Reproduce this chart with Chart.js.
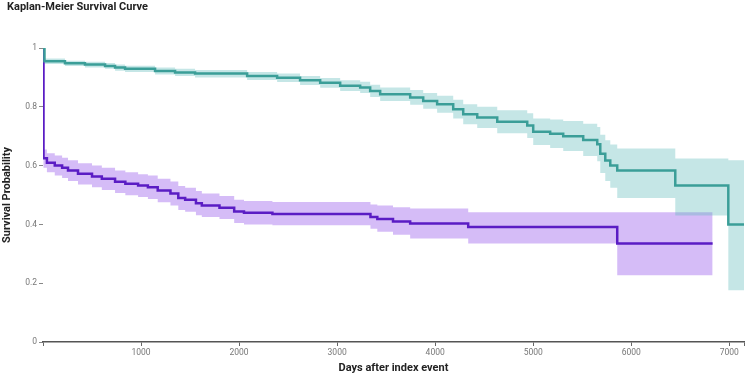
<!DOCTYPE html>
<html>
<head>
<meta charset="utf-8">
<script src="https://cdn.jsdelivr.net/npm/chart.js@4.4.1/dist/chart.umd.min.js"></script>
<style>
  body { margin: 0; background: #fff; }
  #wrap { position: relative; width: 748px; height: 376px; }
  #title { position: absolute; left: 7px; top: 0px; font: bold 11px Roboto, sans-serif; line-height: 13px; color: #222; }
</style>
</head>
<body>
<div id="wrap">
  <div id="title">Kaplan-Meier Survival Curve</div>
  <canvas id="km"></canvas>
</div>
<script>
// group A (teal) - days, survival, lower / upper CI
const daysA = [0, 15, 224, 428, 633, 735, 837, 1143, 1347, 1551, 2082, 2388, 2622, 2827, 3031, 3235, 3337, 3439, 3745, 3878, 4020, 4184, 4286, 4429, 4633, 4939, 5000, 5173, 5306, 5510, 5653, 5684, 5735, 5786, 5857, 6449, 6990, 7150];
const survA = [1, 0.955, 0.948, 0.944, 0.939, 0.934, 0.929, 0.922, 0.917, 0.913, 0.905, 0.899, 0.890, 0.882, 0.872, 0.866, 0.854, 0.843, 0.832, 0.820, 0.809, 0.792, 0.775, 0.764, 0.749, 0.736, 0.715, 0.708, 0.700, 0.687, 0.673, 0.640, 0.617, 0.600, 0.583, 0.532, 0.400, 0.400];
const lowA  = [1, 0.946, 0.939, 0.934, 0.929, 0.923, 0.918, 0.910, 0.905, 0.900, 0.891, 0.884, 0.874, 0.865, 0.854, 0.847, 0.833, 0.820, 0.807, 0.793, 0.780, 0.760, 0.741, 0.728, 0.710, 0.694, 0.670, 0.660, 0.650, 0.633, 0.615, 0.575, 0.548, 0.525, 0.490, 0.430, 0.176, 0.176];
const highA = [1, 0.964, 0.957, 0.953, 0.949, 0.944, 0.940, 0.934, 0.929, 0.925, 0.918, 0.913, 0.905, 0.898, 0.890, 0.885, 0.875, 0.866, 0.857, 0.847, 0.838, 0.824, 0.809, 0.800, 0.788, 0.778, 0.760, 0.757, 0.752, 0.742, 0.731, 0.705, 0.686, 0.672, 0.658, 0.624, 0.618, 0.618];

// group B (purple)
const daysB = [0, 5, 40, 120, 195, 255, 357, 500, 600, 735, 840, 970, 1070, 1170, 1300, 1380, 1450, 1560, 1620, 1800, 1950, 2050, 2340, 3340, 3410, 3570, 3745, 4337, 5857, 6830];
const survB = [1, 0.625, 0.610, 0.600, 0.593, 0.583, 0.572, 0.563, 0.555, 0.545, 0.538, 0.532, 0.526, 0.515, 0.505, 0.490, 0.484, 0.472, 0.464, 0.457, 0.444, 0.440, 0.435, 0.425, 0.418, 0.410, 0.403, 0.391, 0.335, 0.335];
const lowB  = [1, 0.593, 0.577, 0.566, 0.558, 0.548, 0.536, 0.526, 0.517, 0.507, 0.499, 0.493, 0.486, 0.475, 0.464, 0.449, 0.443, 0.431, 0.425, 0.418, 0.405, 0.400, 0.397, 0.385, 0.375, 0.365, 0.352, 0.335, 0.227, 0.227];
const highB = [1, 0.655, 0.642, 0.634, 0.627, 0.618, 0.608, 0.600, 0.593, 0.583, 0.577, 0.571, 0.566, 0.555, 0.546, 0.531, 0.525, 0.514, 0.505, 0.497, 0.484, 0.480, 0.476, 0.468, 0.464, 0.458, 0.454, 0.441, 0.441, 0.441];

const xMax = 7150;
const xTickLabels = ['1000', '2000', '3000', '4000', '5000', '6000', '7000'];
const yTickLabels = ['0', '0.2', '0.4', '0.6', '0.8', '1'];

const tealLine = '#3b9e98';
const tealBand = 'rgba(89,184,184,0.35)';
const purpleLine = '#5a1cc4';
const purpleBand = 'rgba(150,87,235,0.4)';

const pts = (xs, ys) => xs.map((x, i) => ({ x: x, y: ys[i] }));

Chart.defaults.font.family = 'Roboto';

new Chart(document.getElementById('km'), {
  type: 'line',
  data: {
    datasets: [
      { label: 'A', data: pts(daysA, survA), borderColor: tealLine, borderWidth: 2.5, pointRadius: 0, stepped: true, fill: false },
      { label: 'B', data: pts(daysB, survB), borderColor: purpleLine, borderWidth: 2.5, pointRadius: 0, stepped: true, fill: false },
      { label: 'A upper', data: pts(daysA, highA), borderWidth: 0, pointRadius: 0, stepped: true, backgroundColor: tealBand, fill: '+1' },
      { label: 'A lower', data: pts(daysA, lowA), borderWidth: 0, pointRadius: 0, stepped: true, fill: false },
      { label: 'B upper', data: pts(daysB, highB), borderWidth: 0, pointRadius: 0, stepped: true, backgroundColor: purpleBand, fill: '+1' },
      { label: 'B lower', data: pts(daysB, lowB), borderWidth: 0, pointRadius: 0, stepped: true, fill: false }
    ]
  },
  options: {
    responsive: true,
    maintainAspectRatio: false,
    animation: false,
    layout: { padding: { top: 48, right: 4, left: 0, bottom: 0 } },
    plugins: {
      legend: { display: false },
      tooltip: { enabled: false }
    },
    scales: {
      x: {
        type: 'linear',
        min: 0,
        max: xMax,
        afterFit: (s) => { s.height = 34; },
        afterBuildTicks: (s) => {
          s.ticks = [0].concat(xTickLabels.map(Number), [xMax]).map(v => ({ value: v }));
        },
        border: { display: true, color: '#555', width: 1.5 },
        grid: { drawOnChartArea: false, tickLength: 4, color: '#666' },
        ticks: {
          maxRotation: 0,
          minRotation: 0,
          autoSkip: false,
          padding: 2,
          color: '#777',
          font: { size: 8.5 },
          callback: (v) => xTickLabels.includes(String(v)) ? String(v) : ''
        },
        title: { display: true, text: 'Days after index event', color: '#222', font: { size: 11, weight: 'bold' }, padding: { top: 0, bottom: 1 } }
      },
      y: {
        min: 0,
        max: 1,
        afterFit: (s) => { s.width = 43; },
        border: { display: false },
        grid: { drawOnChartArea: false, tickLength: 4, color: '#888' },
        ticks: {
          stepSize: 0.2,
          padding: 2,
          color: '#777',
          font: { size: 8.5 },
          callback: (v) => yTickLabels[Math.round(Number(v) * 5)]
        },
        title: { display: true, text: 'Survival Probability', color: '#222', font: { size: 11, weight: 'bold' }, padding: { top: 1, bottom: 0 } }
      }
    }
  }
});
</script>
</body>
</html>
